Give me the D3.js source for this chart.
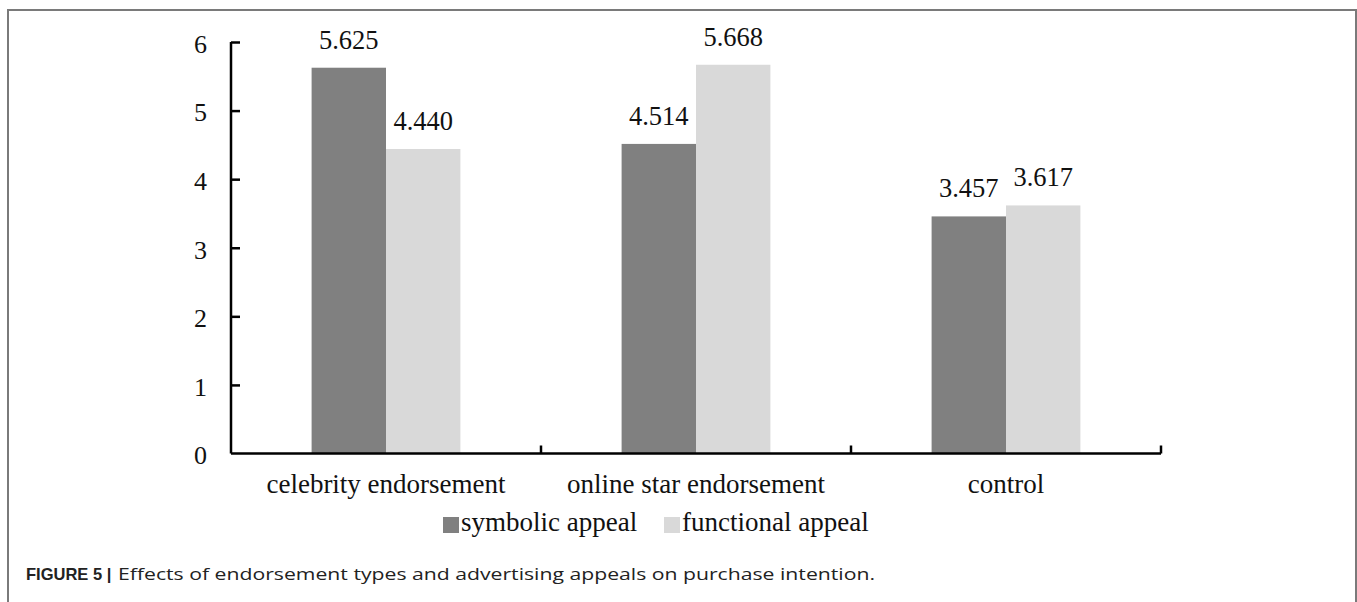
<!DOCTYPE html>
<html>
<head>
<meta charset="utf-8">
<script src="https://cdn.jsdelivr.net/npm/d3@7"></script>
<style>
  html, body { margin: 0; padding: 0; background: #fff; }
  svg { display: block; }
</style>
</head>
<body>
<svg id="chart" width="1357" height="602"></svg>
<script>
const categories = ["celebrity endorsement", "online star endorsement", "control"];
const seriesNames = ["symbolic appeal", "functional appeal"];
const symbolicValues = [5.625, 4.514, 3.457];
const functionalValues = [4.440, 5.668, 3.617];
const valueLabels = [["5.625", "4.440"], ["4.514", "5.668"], ["3.457", "3.617"]];
const yTicks = [0, 1, 2, 3, 4, 5, 6];
const seriesColors = ["#808080", "#d9d9d9"];

(function () {
const svg = d3.select("#chart");
const serif = "Liberation Serif";

// outer frame
svg.append("rect")
  .attr("x", 8).attr("y", 10)
  .attr("width", 1348).attr("height", 700)
  .attr("fill", "none").attr("stroke", "#7a7a7a").attr("stroke-width", 2);

const pL = 231, pR = 1161, pT = 42, pB = 453.5;

const x0 = d3.scaleBand().domain(categories).range([pL, pR])
  .paddingInner(0.52).paddingOuter(0.26);
const x1 = d3.scaleBand().domain(seriesNames).range([0, x0.bandwidth()]).padding(0);
const y = d3.scaleLinear().domain([0, 6]).range([pB, pT]);

const rows = categories.map((c, i) => ({
  cat: c,
  vals: [
    { s: seriesNames[0], v: symbolicValues[i], label: valueLabels[i][0], color: seriesColors[0] },
    { s: seriesNames[1], v: functionalValues[i], label: valueLabels[i][1], color: seriesColors[1] }
  ]
}));

const groups = svg.append("g").selectAll("g").data(rows).join("g")
  .attr("transform", d => `translate(${x0(d.cat)},0)`);

groups.selectAll("rect").data(d => d.vals).join("rect")
  .attr("x", d => x1(d.s))
  .attr("y", d => y(d.v))
  .attr("width", x1.bandwidth())
  .attr("height", d => y(0) - y(d.v))
  .attr("fill", d => d.color);

groups.selectAll("text").data(d => d.vals).join("text")
  .attr("x", d => x1(d.s) + x1.bandwidth() / 2)
  .attr("y", d => y(d.v) - 19)
  .attr("text-anchor", "middle")
  .attr("font-family", serif)
  .attr("font-size", 26.5)
  .attr("fill", "#111")
  .text(d => d.label);

// Y axis
const yAxis = d3.axisRight(y).tickValues(yTicks).tickSize(9).tickFormat(d3.format("d"));
const gy = svg.append("g").attr("transform", `translate(${pL},0)`).call(yAxis);
gy.select(".domain").attr("stroke", "#000").attr("stroke-width", 2.5)
  .attr("d", `M0,${pT}H0V${pB}H0`);
gy.selectAll(".tick line").attr("stroke", "#000").attr("stroke-width", 2.5);
gy.selectAll(".tick text")
  .attr("x", -24).attr("dy", "0.4em")
  .attr("text-anchor", "end")
  .attr("font-family", serif).attr("font-size", 26).attr("fill", "#111");
gy.select(".tick line").remove(); // no tick mark at 0 (x-axis there)

// X axis
const boundaries = categories.map(c => x0(c) + x0.bandwidth() / 2 + x0.step() / 2);
const gx = svg.append("g");
gx.append("line")
  .attr("x1", pL).attr("x2", pR)
  .attr("y1", y(0)).attr("y2", y(0))
  .attr("stroke", "#000").attr("stroke-width", 2.5);
gx.selectAll("line.sep").data(boundaries).join("line")
  .attr("class", "sep")
  .attr("x1", d => d).attr("x2", d => d)
  .attr("y1", y(0)).attr("y2", y(0) - 8)
  .attr("stroke", "#000").attr("stroke-width", 2.5);
gx.selectAll("text").data(categories).join("text")
  .attr("x", d => x0(d) + x0.bandwidth() / 2)
  .attr("y", 493)
  .attr("text-anchor", "middle")
  .attr("font-family", serif).attr("font-size", 27).attr("fill", "#111")
  .text(d => d);

// Legend
const legendX = [443, 664];
const lg = svg.append("g").selectAll("g").data(seriesNames).join("g")
  .attr("transform", (d, i) => `translate(${legendX[i]},517)`);
lg.append("rect").attr("width", 16).attr("height", 16)
  .attr("fill", (d, i) => seriesColors[i]);
lg.append("text").attr("x", 18).attr("y", 14)
  .attr("font-family", serif).attr("font-size", 27).attr("fill", "#111")
  .text(d => d);

// Caption
svg.append("text").attr("x", 26).attr("y", 580)
  .attr("font-family", "Liberation Sans").attr("font-weight", "bold")
  .attr("font-size", 16.5).attr("fill", "#222")
  .text("FIGURE 5 |");
svg.append("text").attr("x", 118).attr("y", 580)
  .attr("font-family", "Open Sans")
  .attr("font-size", 17).attr("fill", "#222")
  .attr("textLength", 757).attr("lengthAdjust", "spacingAndGlyphs")
  .text("Effects of endorsement types and advertising appeals on purchase intention.");
})();
</script>
</body>
</html>
